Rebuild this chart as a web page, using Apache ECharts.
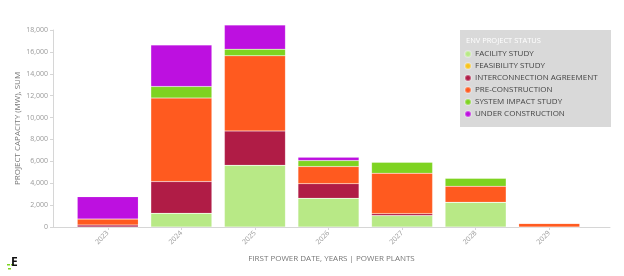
<!DOCTYPE html>
<html>
<head>
<meta charset="utf-8">
<script src="https://cdn.jsdelivr.net/npm/echarts@6/dist/echarts.min.js"></script>
<style>html,body{margin:0;padding:0;background:#fff}#c{width:624px;height:276px}</style>
</head>
<body>
<div id="c"></div>
<script>
var years = ['2023', '2024', '2025', '2026', '2027', '2028', '2029'];
var facilityStudy = [0, 1250, 5640, 2620, 1040, 2260, 0];
var feasibilityStudy = [0, 0, 0, 0, 0, 0, 0];
var interconnectionAgreement = [180, 2900, 3140, 1340, 180, 0, 0];
var preConstruction = [550, 7630, 6860, 1560, 3690, 1460, 330];
var systemImpactStudy = [0, 1060, 610, 550, 1010, 730, 0];
var underConstruction = [2040, 3790, 2200, 300, 0, 0, 0];

var seriesDefs = [
  ['FACILITY STUDY', facilityStudy, '#b8e986'],
  ['FEASIBILITY STUDY', feasibilityStudy, '#f8c41c'],
  ['INTERCONNECTION AGREEMENT', interconnectionAgreement, '#b01c46'],
  ['PRE-CONSTRUCTION', preConstruction, '#ff5a1f'],
  ['SYSTEM IMPACT STUDY', systemImpactStudy, '#7ed321'],
  ['UNDER CONSTRUCTION', underConstruction, '#bd10e0']
];

var font = '"Open Sans", "Noto Sans", sans-serif';
var axisGray = '#d6d6d6';
var chart = echarts.init(document.getElementById('c'), null, {renderer: 'canvas'});
chart.setOption({
  animation: false,
  textStyle: {fontFamily: font},
  grid: [
    {left: 71, right: 38, top: 30, bottom: 49, containLabel: false},
    {left: 53, right: 14, top: 30, bottom: 49, containLabel: false}
  ],
  xAxis: [
    {
      type: 'category', gridIndex: 0, data: years,
      axisLine: {show: true, lineStyle: {color: axisGray, width: 1}},
      axisTick: {show: true, alignWithLabel: true, length: 3, lineStyle: {color: axisGray}},
      axisLabel: {rotate: 45, color: '#999', fontSize: 7, margin: 5}
    },
    {
      type: 'value', gridIndex: 1, min: 0, max: 1,
      name: 'FIRST POWER DATE, YEARS | POWER PLANTS',
      nameLocation: 'middle', nameGap: 28, nameMoveOverlap: false,
      nameTextStyle: {color: '#777', fontSize: 8, fontFamily: font},
      axisLine: {show: true, lineStyle: {color: axisGray, width: 1}},
      axisTick: {show: false}, axisLabel: {show: false}, splitLine: {show: false}
    }
  ],
  yAxis: [
    {
      type: 'value', gridIndex: 0,
      min: 0, max: 18000, interval: 2000,
      offset: 18,
      name: 'PROJECT CAPACITY (MW), SUM',
      nameLocation: 'middle', nameGap: 31, nameMoveOverlap: false,
      nameTextStyle: {color: '#777', fontSize: 8, fontFamily: font},
      splitLine: {show: false},
      axisLine: {show: true, lineStyle: {color: axisGray, width: 1}},
      axisTick: {show: true, length: 3, lineStyle: {color: axisGray}},
      axisLabel: {
        color: '#999', fontSize: 7, margin: 5,
        formatter: function (v) { return v.toLocaleString('en-US'); }
      }
    },
    {type: 'value', gridIndex: 1, show: false, min: 0, max: 1}
  ],
  legend: {
    orient: 'vertical',
    left: 464, top: 50,
    itemWidth: 6, itemHeight: 6, itemGap: 4,
    icon: 'circle',
    padding: 0,
    textStyle: {color: '#444', fontSize: 8, fontFamily: font, padding: [0, 0, 0, -1]},
    data: seriesDefs.map(function (s) { return s[0]; })
  },
  graphic: [
    {type: 'rect', left: 460, top: 30, shape: {width: 151, height: 97}, style: {fill: '#d9d9d9'}, z: -1},
    {type: 'text', left: 466, top: 37, style: {text: 'ENV PROJECT STATUS', fill: '#ffffff', font: '7.5px ' + font}, z: 10},
    {type: 'rect', left: 7, top: 264, shape: {width: 3, height: 1.5}, style: {fill: '#7ed321'}},
    {type: 'rect', left: 11, top: 264, shape: {width: 3, height: 1.5}, style: {fill: '#7ed321'}},
    {type: 'rect', left: 8, top: 268, shape: {width: 3, height: 1.5}, style: {fill: '#7ed321'}},
    {type: 'text', left: 11, top: 257, style: {text: 'E', fill: '#111', font: 'bold 12px ' + font}}
  ],
  series: seriesDefs.map(function (s) {
    return {
      name: s[0], type: 'bar', stack: 'total', barWidth: 61, clip: false,
      xAxisIndex: 0, yAxisIndex: 0,
      itemStyle: {color: s[2], borderColor: 'rgba(255,255,255,0.3)', borderWidth: 0.5},
      data: s[1]
    };
  })
});
</script>
</body>
</html>
